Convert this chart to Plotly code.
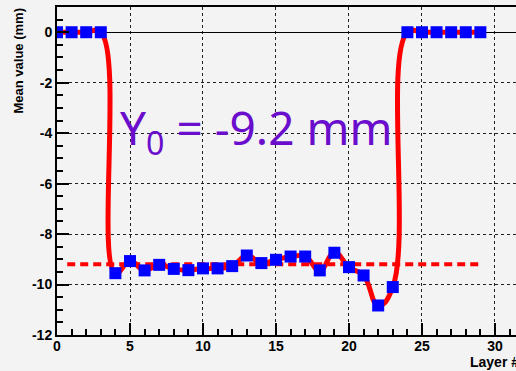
import plotly.graph_objects as go

layers = list(range(0, 30))
mean_values = [0, 0, 0, 0,
               -9.55, -9.07, -9.44, -9.22, -9.38, -9.43, -9.36, -9.36, -9.27,
               -8.85, -9.15, -9.02, -8.89, -8.89, -9.44, -8.74, -9.31, -9.64,
               -10.83, -10.10,
               0, 0, 0, 0, 0, 0]
y0_value = -9.2
y0_x = [0.7, 29.0]
annot_text = "Y<sub>0</sub> = -9.2 mm"
x_tickvals = [0, 5, 10, 15, 20, 25, 30]
x_ticklabels = ["0", "5", "10", "15", "20", "25", "30"]
y_tickvals = [0, -2, -4, -6, -8, -10, -12]
y_ticklabels = ["0", "-2", "-4", "-6", "-8", "-10", "-12"]

fig = go.Figure()
fig.add_trace(go.Scatter(x=y0_x, y=[y0_value, y0_value], mode="lines",
                         line=dict(color="#ff0000", width=4, dash="8px,5px"),
                         hoverinfo="skip", showlegend=False))
fig.add_trace(go.Scatter(x=layers, y=mean_values, mode="lines",
                         line=dict(color="#ff0000", width=5, shape="spline", smoothing=1.3),
                         showlegend=False))
fig.add_trace(go.Scatter(x=layers, y=mean_values, mode="markers",
                         marker=dict(symbol="square", size=12, color="#0000ff",
                                     line=dict(width=0)),
                         showlegend=False))

bg = "#f3f3f3"
tickfont = dict(family="Liberation Sans, Arial, sans-serif", size=14, color="black", weight="bold")
fig.update_layout(
    width=516, height=371,
    margin=dict(l=57, r=0, t=7, b=36),
    paper_bgcolor=bg, plot_bgcolor=bg,
    showlegend=False,
    xaxis=dict(range=[0, 31.44], tickvals=x_tickvals, ticktext=[f"<b>{t}</b>" for t in x_ticklabels],
               ticks="inside", ticklen=12, tickwidth=2, ticklabelstandoff=-3,
               tickcolor="black", showline=True, linecolor="black", linewidth=2, mirror=True,
               showgrid=True, gridcolor="#222222", gridwidth=1, griddash="dot",
               zeroline=False, tickfont=tickfont,
               minor=dict(dtick=1, tick0=0, ticks="inside", ticklen=6, tickwidth=2, tickcolor="black", showgrid=False)),
    yaxis=dict(range=[-12, 1], tickvals=y_tickvals, ticktext=[f"<b>{t}</b>" for t in y_ticklabels],
               ticks="inside", ticklen=12, tickwidth=2,
               tickcolor="black", showline=True, linecolor="black", linewidth=2, mirror=False,
               showgrid=True, gridcolor="#222222", gridwidth=1, griddash="dot",
               zeroline=True, zerolinecolor="black", zerolinewidth=1, tickfont=tickfont,
               minor=dict(dtick=0.5, tick0=0, ticks="inside", ticklen=6, tickwidth=2, tickcolor="black", showgrid=False)),
)

fig.add_annotation(text=annot_text, xref="paper", yref="paper",
                   x=(118 - 57) / 459, y=(335 - 130) / 328, xanchor="left", yanchor="middle",
                   showarrow=False,
                   font=dict(family="Noto Sans, DejaVu Sans, sans-serif", size=46, color="#6a0dcc"))
fig.add_annotation(text="Layer #", xref="paper", yref="paper",
                   x=(468 - 57) / 459, y=(335 - 362) / 328, xanchor="left", yanchor="middle",
                   showarrow=False,
                   font=dict(family="Liberation Sans, Arial, sans-serif", size=14, color="black", weight="bold"))
fig.add_annotation(text="Mean value (mm)", xref="paper", yref="paper",
                   x=(18 - 57) / 459, y=1.0, xanchor="center", yanchor="top", textangle=-90,
                   showarrow=False,
                   font=dict(family="Liberation Sans, Arial, sans-serif", size=13, color="black", weight="bold"))

fig.write_html("out.html")
